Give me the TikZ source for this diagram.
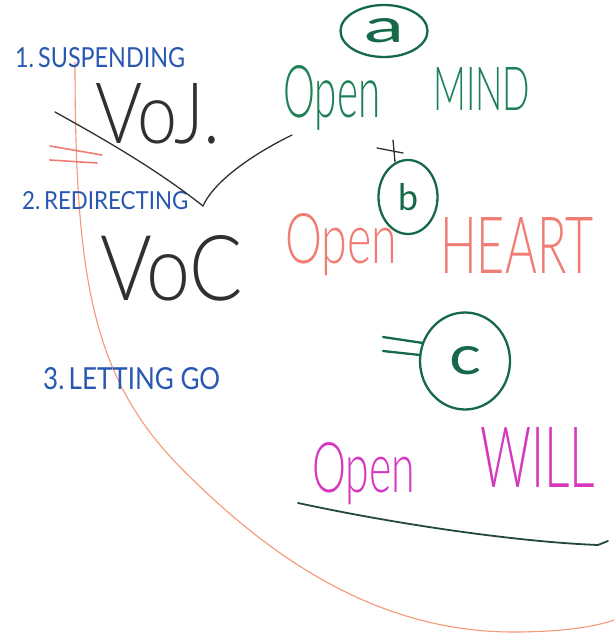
\documentclass[tikz,border=0pt]{standalone}
\usepackage{graphicx}
\usepackage{fontspec}
\usepackage{xcolor}
\usepackage{tikz}
\usetikzlibrary{shapes.geometric}
\newfontfamily\handfont{Lato Light}
\newfontfamily\labelfont{Lato}
\definecolor{penBlue}{RGB}{40,88,178}
\definecolor{penGreen}{RGB}{30,128,86}
\definecolor{ringGreen}{RGB}{22,105,72}
\definecolor{penSalmon}{RGB}{240,125,115}
\definecolor{penMagenta}{RGB}{214,55,190}
\definecolor{arcOrange}{RGB}{246,152,118}
\definecolor{inkBlack}{RGB}{48,48,48}
\definecolor{lineGreen}{RGB}{35,72,60}
% width, cap height, text
\newcommand{\scrawl}[3]{\resizebox{#1pt}{#2pt}{\handfont #3}}
\newcommand{\jotting}[3]{\resizebox{#1pt}{#2pt}{\labelfont #3}}

\begin{document}
\begin{tikzpicture}[
  x=1pt, y=-1pt,
  word/.style={anchor=base west, inner sep=0pt},
  ring/.style={draw=ringGreen, line width=2.3pt, ellipse, inner sep=0pt, text=ringGreen},
  ink/.style={draw=inkBlack, line width=1.3pt, line cap=round},
  tick/.style={line width=1.6pt, line cap=round}
]
\useasboundingbox[fill=white] (0,0) rectangle (614,634);

% the big sweep
\draw[arcOrange, line width=1.1pt] (75,62) .. controls (75,282) and (93,380) .. (183,470)
  .. controls (253,540) and (363,632) .. (513,632)
  .. controls (560,632) and (595,627) .. (614,620);

% left column
\node[word, text=penBlue]   (susp)  at (15,68)  {\jotting{170}{20}{1.\,SUSPENDING}};
\node[word, text=inkBlack]  (voj)   at (95,143) {\scrawl{125}{60}{VoJ.}};
\node[word, text=penBlue]   (redir) at (22,209) {\jotting{166}{18}{2.\,REDIRECTING}};
\node[word, text=inkBlack]  (voc)   at (100,300){\scrawl{143}{65}{VoC}};
\node[word, text=penBlue]   (letgo) at (43,389) {\jotting{177}{22}{3.\,LETTING GO}};

\draw[penSalmon, tick] (50,146) -- (102,155);
\draw[penSalmon, tick] (50,160) -- (97,163);

\coordinate (chkL) at (55,112);
\coordinate (chkM) at (203,206);
\coordinate (chkR) at (292,135);
\draw[ink] (chkL) .. controls (100,137) and (155,168) .. (chkM)
  .. controls (212,185) and (245,158) .. (chkR);

% right column
\node[ring, minimum width=87pt, minimum height=52pt] (ringA) at (384,31)  {\jotting{40}{24}{a}};
\node[word, text=penGreen]  (openM) at (283,117) {\scrawl{97}{52}{Open}};
\node[word, text=penGreen]  (mind)  at (433,110) {\scrawl{97}{43}{MIND}};

\draw[ink] (377,148) -- (403,153);
\draw[ink] (393,140) -- (395,162);

\node[ring, minimum width=59pt, minimum height=74pt] (ringB) at (408,197) {\jotting{20}{27}{b}};
\node[word, text=penSalmon] (openH) at (285,263) {\scrawl{112}{50}{Open}};
\node[word, text=penSalmon] (heart) at (440,273) {\scrawl{153}{56}{HEART}};

\node[ring, minimum width=90pt, minimum height=97pt] (ringC) at (465,361) {\jotting{32}{28}{c}};
\draw[ringGreen, tick, line width=2.3pt] (383,337) -- (423,343);
\draw[ringGreen, tick, line width=2.3pt] (383,351) -- (420,355);

\node[word, text=penMagenta] (openW) at (312,492) {\scrawl{103}{50}{Open}};
\node[word, text=penMagenta] (will)  at (480,487) {\scrawl{115}{60}{WILL}};

\draw[lineGreen, line width=1.8pt, line cap=round]
  (298,503) .. controls (400,525) and (520,542) .. (598,545) -- (608,541);
\end{tikzpicture}
\end{document}
